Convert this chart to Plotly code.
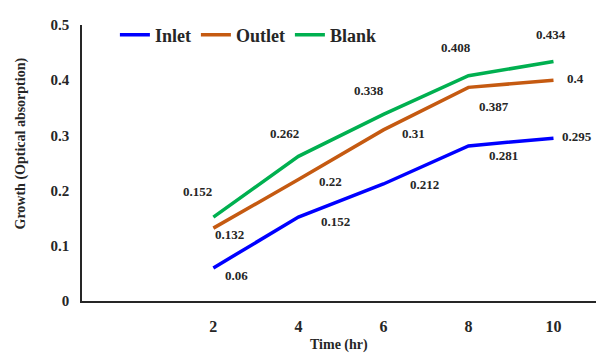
import plotly.graph_objects as go

time_hr = [2, 4, 6, 8, 10]
inlet = [0.06, 0.152, 0.212, 0.281, 0.295]
outlet = [0.132, 0.22, 0.31, 0.387, 0.4]
blank = [0.152, 0.262, 0.338, 0.408, 0.434]
series_names = ["Inlet", "Outlet", "Blank"]
y_ticks = [0, 0.1, 0.2, 0.3, 0.4, 0.5]
y_tick_text = ["0", "0.1", "0.2", "0.3", "0.4", "0.5"]

colors = ["#0000FF", "#C55A11", "#00B050"]
# label offsets in px (dx, dy with dy positive = up)
offsets = {
    "Inlet": [(23, -8), (37, -4), (41, -1), (35, -10), (24, 2)],
    "Outlet": [(16, -6), (32, -2), (30, -4), (26, -19), (22, 2)],
    "Blank": [(-16, 26), (-14, 23), (-14, 24), (-12, 28), (-2, 27)],
}

FONT = "'Liberation Serif', 'Times New Roman', 'DejaVu Serif', serif"
TXT = "#262626"
fig = go.Figure()
for name, vals, col in zip(series_names, [inlet, outlet, blank], colors):
    fig.add_trace(go.Scatter(x=time_hr, y=vals, mode="lines", name=name,
                             line=dict(color=col, width=3.5)))
    for xv, yv, (dx, dy) in zip(time_hr, vals, offsets[name]):
        fig.add_annotation(x=xv, y=yv, xref="x", yref="y", text=f"{yv:g}",
                           showarrow=False, xshift=dx, yshift=dy,
                           font=dict(family=FONT, size=13, color=TXT, weight="bold"))

fig.add_annotation(x=0.5, y=-0.16, xref="paper", yref="paper", text="Time (hr)",
                   showarrow=False, xanchor="center", yanchor="middle",
                   font=dict(family=FONT, size=14, color=TXT, weight="bold"))
fig.add_annotation(x=-0.119, y=0.57, xref="paper", yref="paper",
                   text="Growth (Optical absorption)", textangle=-90,
                   showarrow=False, xanchor="center", yanchor="middle",
                   font=dict(family=FONT, size=14, color=TXT, weight="bold"))

fig.update_layout(
    width=596, height=353,
    margin=dict(l=82, r=0, t=25, b=52),
    paper_bgcolor="white", plot_bgcolor="white",
    showlegend=True,
    legend=dict(orientation="h", x=0.064, y=0.964, xanchor="left", yanchor="middle",
                font=dict(family=FONT, size=18, color=TXT, weight="bold"),
                bgcolor="rgba(0,0,0,0)", itemwidth=30, tracegroupgap=0),
    xaxis=dict(range=[-1.09, 11.0], tickvals=time_hr,
               showgrid=False, zeroline=False, showline=True, linecolor=TXT,
               linewidth=1.5, ticks="", ticklabelstandoff=10,
               tickfont=dict(family=FONT, size=16, color=TXT, weight="bold")),
    yaxis=dict(range=[0, 0.5], tickvals=y_ticks, ticktext=y_tick_text,
               showgrid=False, zeroline=False, showline=True, linecolor=TXT,
               linewidth=1.5, ticks="", ticklabelstandoff=8,
               tickfont=dict(family=FONT, size=15, color=TXT, weight="bold")),
)
fig.write_html("out.html")
